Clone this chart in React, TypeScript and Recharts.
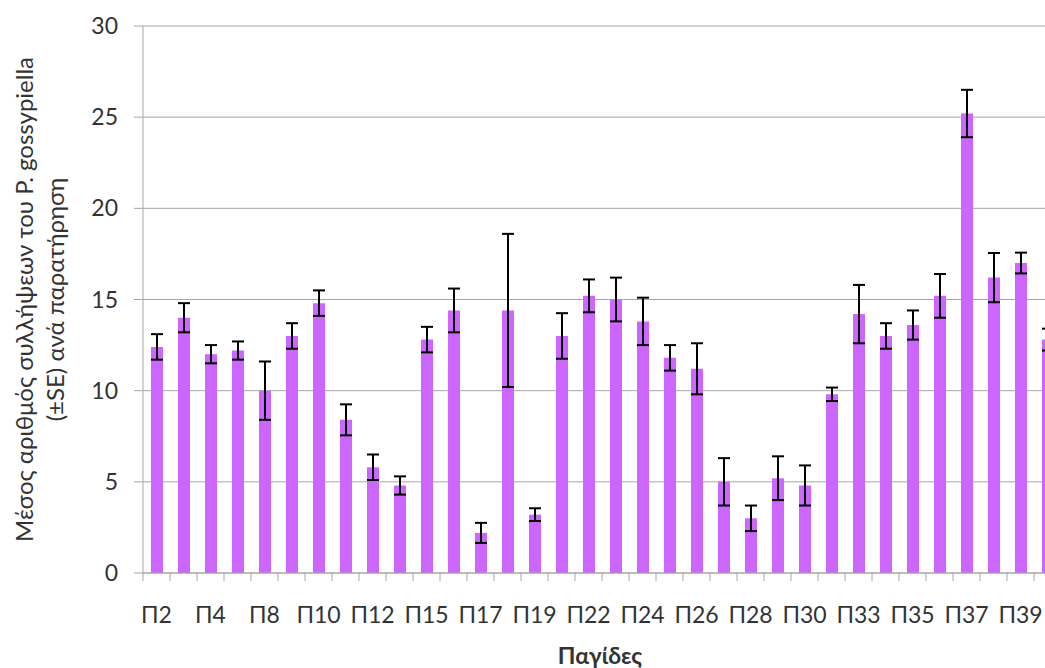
import React from 'react';
import {
  BarChart,
  Bar,
  XAxis,
  YAxis,
  CartesianGrid,
  ErrorBar,
  Label,
} from 'recharts';

// traps shown left to right (the source image is cropped on the right)
const traps = [
  'Π2', 'Π3', 'Π4', 'Π6', 'Π8', 'Π9', 'Π10', 'Π11', 'Π12', 'Π14', 'Π15', 'Π16',
  'Π17', 'Π18', 'Π19', 'Π21', 'Π22', 'Π23', 'Π24', 'Π25', 'Π26', 'Π27', 'Π28',
  'Π29', 'Π30', 'Π32', 'Π33', 'Π34', 'Π35', 'Π36', 'Π37', 'Π38', 'Π39', 'Π40',
];
const means = [
  12.4, 14.0, 12.0, 12.2, 10.0, 13.0, 14.8, 8.4, 5.8, 4.8, 12.8, 14.4, 2.2,
  14.4, 3.2, 13.0, 15.2, 15.0, 13.8, 11.8, 11.2, 5.0, 3.0, 5.2, 4.8, 9.8, 14.2,
  13.0, 13.6, 15.2, 25.2, 16.2, 17.0, 12.8,
];
const se = [
  0.7, 0.8, 0.5, 0.5, 1.6, 0.7, 0.7, 0.85, 0.7, 0.5, 0.7, 1.2, 0.55, 4.2, 0.35,
  1.25, 0.9, 1.2, 1.3, 0.7, 1.4, 1.3, 0.7, 1.2, 1.1, 0.37, 1.6, 0.7, 0.8, 1.2,
  1.3, 1.35, 0.57, 0.6,
];
const yTicks = [0, 5, 10, 15, 20, 25, 30];

const data = traps.map((t, i) => ({ trap: t, mean: means[i], se: se[i] }));

const FONT = 'Lato, "Open Sans", sans-serif';
const TEXT = '#333333';
const AXIS = '#a6a6a6';
const CHART_W = 1071;
const Y_AXIS_W = 143;
const RIGHT = 10;
const BAND = (CHART_W - Y_AXIS_W - RIGHT) / traps.length;

function TrapTick(props: any) {
  const { x, y, index, payload } = props;
  const left = x - BAND / 2;
  return (
    <g>
      <line x1={left} y1={y} x2={left} y2={y + 8} stroke={AXIS} strokeWidth={1} />
      {index % 2 === 0 && (
        <text
          x={x}
          y={y + 50}
          textAnchor="middle"
          fontFamily={FONT}
          fontSize={23}
          fill={TEXT}
        >
          {payload.value}
        </text>
      )}
    </g>
  );
}

function YTitle(props: any) {
  const { viewBox } = props;
  const cy = viewBox.y + viewBox.height / 2;
  const lines = [
    { x: 33, text: 'Μέσος αριθμός συλλήψεων του P. gossypiella' },
    { x: 64, text: '(±SE) ανά παρατήρηση' },
  ];
  return (
    <g>
      {lines.map((l) => (
        <text
          key={l.x}
          x={l.x}
          y={cy}
          transform={`rotate(-90, ${l.x}, ${cy})`}
          textAnchor="middle"
          fontFamily={FONT}
          fontSize={24}
          fill={TEXT}
        >
          {l.text}
        </text>
      ))}
    </g>
  );
}

export default function App() {
  return (
    <div
      style={{
        position: 'absolute',
        left: 0,
        top: 0,
        width: 1045,
        height: 668,
        overflow: 'hidden',
        background: '#fff',
      }}
    >
      <BarChart
        width={CHART_W}
        height={668}
        data={data}
        margin={{ top: 26, right: RIGHT, left: 0, bottom: 0 }}
      >
        <CartesianGrid vertical={false} stroke={AXIS} strokeWidth={1} />
        <XAxis
          dataKey="trap"
          interval={0}
          height={95}
          tickSize={0}
          tickMargin={0}
          tickLine={false}
          stroke={AXIS}
          tick={<TrapTick />}
        >
          <Label
            value="Παγίδες"
            position="insideBottom"
            offset={4}
            dx={-2}
            style={{ fontFamily: FONT, fontSize: 23, fontWeight: 700, fill: TEXT }}
          />
        </XAxis>
        <YAxis
          width={Y_AXIS_W}
          domain={[0, 30]}
          ticks={yTicks}
          tickSize={9}
          tickMargin={16}
          stroke={AXIS}
          tick={{ fontFamily: FONT, fontSize: 23, fill: TEXT }}
        >
          <Label content={<YTitle />} />
        </YAxis>
        <Bar dataKey="mean" fill="#cc66ff" barSize={12} isAnimationActive={false}>
          <ErrorBar
            dataKey="se"
            width={6}
            stroke="#000"
            strokeWidth={2}
            isAnimationActive={false}
          />
        </Bar>
      </BarChart>
    </div>
  );
}
